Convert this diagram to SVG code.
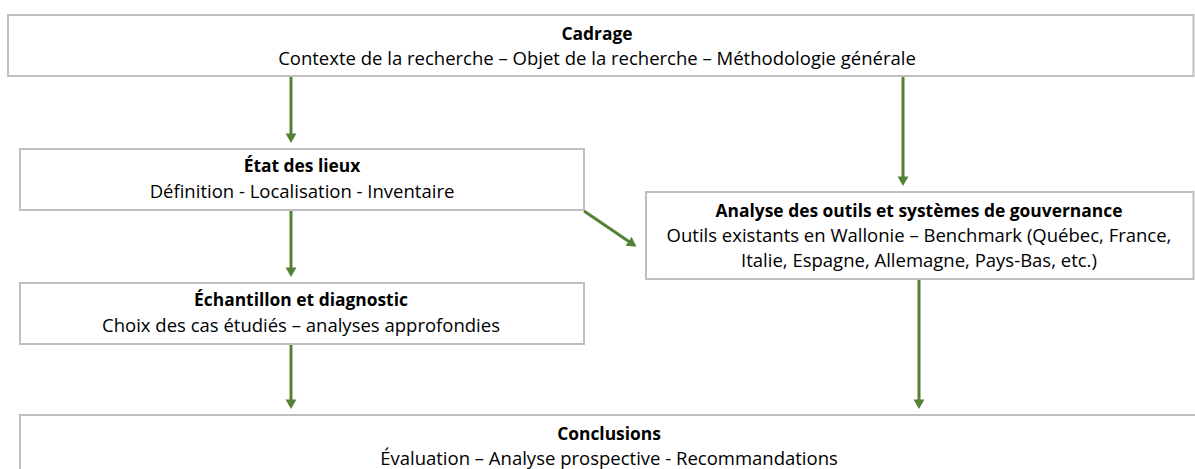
<svg xmlns="http://www.w3.org/2000/svg" width="1195" height="469" viewBox="0 0 1195 469">
<style>
.box{fill:#fff;stroke:#bfbfbf;stroke-width:2}
.t{font-family:"Open Sans","Liberation Sans",sans-serif;font-size:18.5px;fill:#000;text-anchor:middle}
.b{font-weight:bold;font-size:17.4px}
.c{fill:none;stroke:#548235;stroke-width:3}
</style>
<defs>
<marker id="ah" markerWidth="4" markerHeight="4" refX="2.2" refY="2" orient="auto" markerUnits="strokeWidth">
<path d="M0,0.2 L3.2,2 L0,3.8 Z" fill="#548235"/>
</marker>
</defs>
<rect width="1195" height="469" fill="#fff"/>
<g id="cadrage">
<rect class="box" x="8" y="15" width="1185.5" height="61"/>
<text class="t b" x="597" y="39.5">Cadrage</text>
<text class="t" x="597" y="65">Contexte de la recherche – Objet de la recherche – Méthodologie générale</text>
</g>
<g id="etat">
<rect class="box" x="20" y="149" width="564" height="61"/>
<text class="t b" x="302" y="172">État des lieux</text>
<text class="t" x="302" y="198">Définition - Localisation - Inventaire</text>
</g>
<g id="analyse">
<rect class="box" x="646" y="192" width="547.5" height="87"/>
<text class="t b" x="919" y="217">Analyse des outils et systèmes de gouvernance</text>
<text class="t" x="919" y="241.5">Outils existants en Wallonie – Benchmark (Québec, France,</text>
<text class="t" x="919" y="267">Italie, Espagne, Allemagne, Pays-Bas, etc.)</text>
</g>
<g id="echantillon">
<rect class="box" x="20" y="283" width="564" height="61"/>
<text class="t b" x="301" y="306">Échantillon et diagnostic</text>
<text class="t" x="301" y="332">Choix des cas étudiés – analyses approfondies</text>
</g>
<g id="conclusions">
<rect class="box" x="20" y="415" width="1190" height="70"/>
<text class="t b" x="609" y="440">Conclusions</text>
<text class="t" x="609" y="464.5">Évaluation – Analyse prospective - Recommandations</text>
</g>
<g id="connectors">
<line class="c" x1="291" y1="77" x2="291" y2="140" marker-end="url(#ah)"/>
<line class="c" x1="903" y1="77" x2="903" y2="183" marker-end="url(#ah)"/>
<line class="c" x1="584" y1="211" x2="634" y2="245" marker-end="url(#ah)"/>
<line class="c" x1="291" y1="211" x2="291" y2="274" marker-end="url(#ah)"/>
<line class="c" x1="291" y1="345" x2="291" y2="406" marker-end="url(#ah)"/>
<line class="c" x1="919" y1="280" x2="919" y2="406" marker-end="url(#ah)"/>
</g>
</svg>
